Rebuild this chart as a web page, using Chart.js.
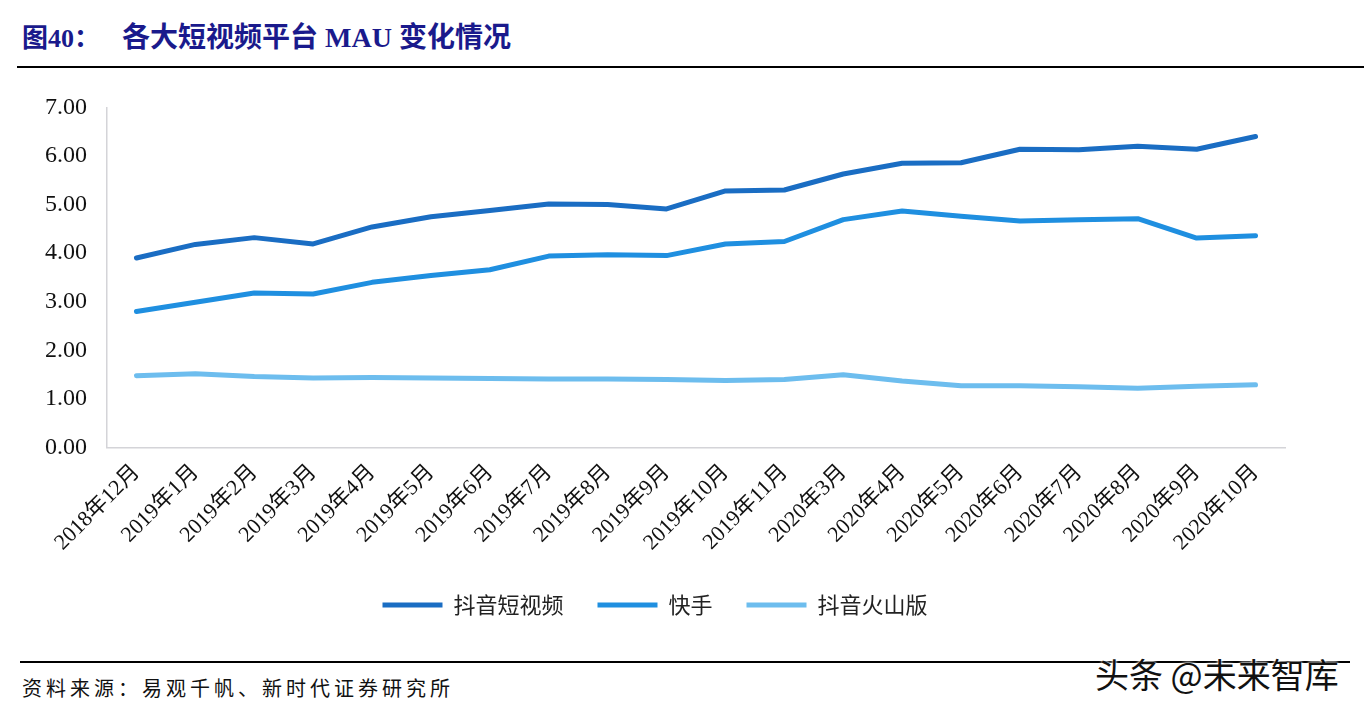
<!DOCTYPE html>
<html>
<head>
<meta charset="utf-8">
<script src="https://cdn.jsdelivr.net/npm/chart.js@4/dist/chart.umd.min.js"></script>
<style>
  body { margin: 0; background: #fff; width: 1364px; height: 714px; overflow: hidden; position: relative; }
  #title { position: absolute; left: 22px; top: 15px; font: bold 26px "Liberation Serif", "Noto Sans CJK SC", serif; color: #1a1a8c; white-space: nowrap; }
  #title .gap { display: inline-block; width: 22px; }
  #title .main { font-size: 28px; }
  .rule { position: absolute; height: 2px; background: #000; }
  #src { position: absolute; left: 22px; top: 673px; font: 20px "Noto Sans CJK SC", sans-serif; letter-spacing: 4px; color: #111; }
  #mark { position: absolute; left: 1095px; top: 649px; font: 34px "Noto Sans CJK SC", sans-serif; color: #111; text-shadow: 0 0 3px #fff, 0 0 3px #fff; }
  #wrap { position: absolute; left: 0; top: 73px; width: 1364px; height: 563px; }
</style>
</head>
<body>
<div id="title">图40：<span class="gap"></span><span class="main">各大短视频平台 MAU 变化情况</span></div>
<div class="rule" style="left:17px; top:66px; width:1347px;"></div>
<div id="wrap"><canvas id="grafico"></canvas></div>
<div class="rule" style="left:20px; top:661px; width:1330px;"></div>
<div id="src">资料来源：易观千帆、新时代证券研究所</div>
<div id="mark">头条 @未来智库</div>
<script>
// eixo x
var meses = ["2018年12月", "2019年1月", "2019年2月", "2019年3月", "2019年4月", "2019年5月",
    "2019年6月", "2019年7月", "2019年8月", "2019年9月", "2019年10月", "2019年11月",
    "2020年3月", "2020年4月", "2020年5月", "2020年6月", "2020年7月", "2020年8月",
    "2020年9月", "2020年10月"];

// MAU (亿)
var douyin = [3.90, 4.18, 4.32, 4.19, 4.54, 4.75, 4.88, 5.01, 5.00, 4.91, 5.28, 5.30,
    5.63, 5.85, 5.86, 6.14, 6.13, 6.20, 6.14, 6.40];
var kuaishou = [2.80, 2.99, 3.18, 3.16, 3.40, 3.54, 3.66, 3.94, 3.97, 3.95, 4.19, 4.24,
    4.69, 4.87, 4.76, 4.66, 4.69, 4.71, 4.31, 4.36];
var huoshan = [1.48, 1.52, 1.46, 1.43, 1.44, 1.43, 1.42, 1.41, 1.41, 1.40, 1.38, 1.40,
    1.50, 1.37, 1.27, 1.27, 1.25, 1.22, 1.26, 1.29];

var yTicks = [0, 1, 2, 3, 4, 5, 6, 7];

var cjk = '"Noto Sans CJK SC", sans-serif';
var serif = '"Liberation Serif", "Noto Sans CJK SC", serif';

function serie(nome, dados, cor) {
    return {
        label: nome,
        data: dados,
        borderColor: cor,
        backgroundColor: cor,
        borderWidth: 5,
        pointRadius: 0,
        pointStyle: 'line',
        tension: 0,
        borderCapStyle: 'round',
        borderJoinStyle: 'round'
    };
}

var graf = document.getElementById("grafico");
var lineChart = new Chart(graf, {
    type: 'line',
    data: {
        labels: meses,
        datasets: [
            serie("抖音短视频", douyin, "#1a6dc3"),
            serie("快手", kuaishou, "#1f8fe0"),
            serie("抖音火山版", huoshan, "#6dbdee")
        ]
    },
    options: {
        responsive: true,
        maintainAspectRatio: false,
        animation: false,
        layout: { padding: { left: 25, right: 79, top: 3, bottom: 10 } },
        plugins: {
            tooltip: { enabled: false },
            legend: {
                position: 'bottom',
                labels: {
                    usePointStyle: true,
                    pointStyleWidth: 60,
                    boxHeight: 5,
                    padding: 34,
                    color: '#222',
                    font: { family: cjk, size: 22 }
                }
            }
        },
        scales: {
            x: {
                offset: true,
                grid: { display: false },
                border: { color: '#d4d4d8', width: 1.5 },
                ticks: {
                    maxRotation: 45,
                    minRotation: 45,
                    autoSkip: false,
                    color: '#111',
                    padding: 4,
                    font: { family: serif, size: 22 }
                }
            },
            y: {
                min: 0,
                max: 7,
                afterBuildTicks: function (axis) {
                    axis.ticks = yTicks.map(function (v) { return { value: v }; });
                },
                grid: { display: false, drawTicks: false },
                border: { color: '#d4d4d8', width: 1.5 },
                ticks: {
                    color: '#111',
                    padding: 20,
                    font: { family: serif, size: 24 },
                    callback: function (v) { return Number(v).toFixed(2); }
                }
            }
        }
    }
});
</script>
</body>
</html>
